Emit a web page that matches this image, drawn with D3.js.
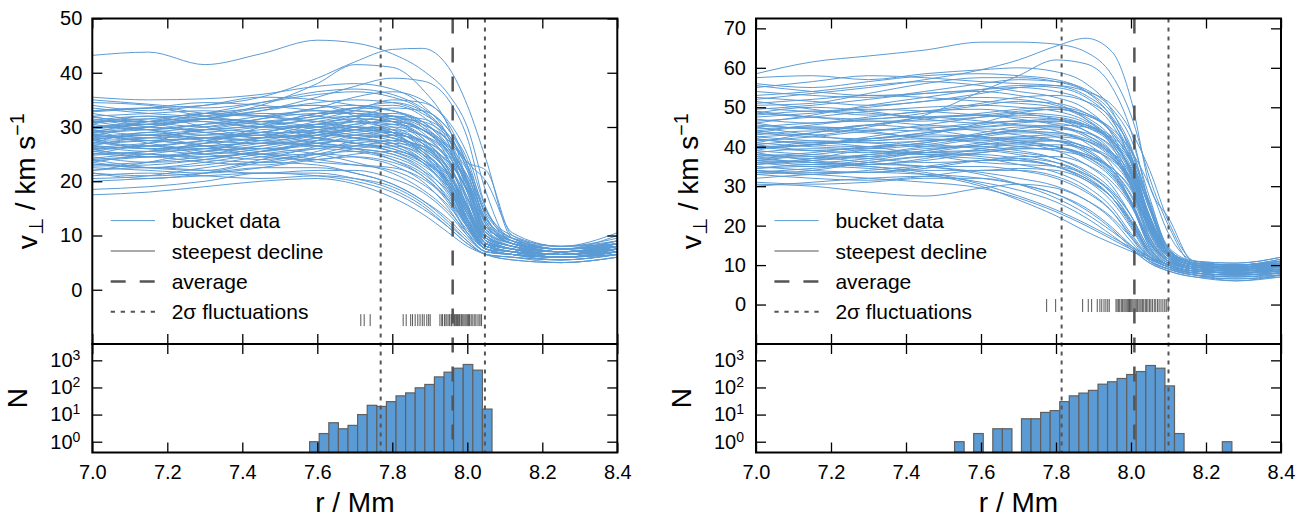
<!DOCTYPE html>
<html><head><meta charset="utf-8">
<script src="https://cdn.jsdelivr.net/npm/d3@7"></script>
<style>
body{margin:0;background:#fff}
svg{display:block}
text{font-family:"Liberation Sans",Arial,Helvetica,sans-serif;fill:#000}
</style>
</head><body>
<svg id="chart" width="1306" height="518"></svg>
<script>
// ---------------- DATA ----------------
const xTicks = [7.0, 7.2, 7.4, 7.6, 7.8, 8.0, 8.2, 8.4];
const yTicksL = [0, 10, 20, 30, 40, 50];
const yTicksR = [0, 10, 20, 30, 40, 50, 60, 70];
const histTicks = [1, 10, 100, 1000];
const legendLabels = ["bucket data", "steepest decline", "average", "2σ fluctuations"];

// radius grid (Mm) at which each bucket profile was read
const rGridL = [7.0, 7.15, 7.3, 7.45, 7.6, 7.7, 7.8, 7.88, 7.95, 8.0, 8.05, 8.12, 8.25, 8.4];
const curvesL = [
[43.2,43.8,41.5,43.5,46.0,45.5,43.5,40.5,36.0,30.0,18.0,8.5,7.5,8.5],
[33.0,33.5,34.0,35.5,39.0,42.0,44.3,44.5,41.0,34.0,24.0,9.5,7.5,8.5],
[30.0,31.0,32.0,34.0,38.0,41.5,41.0,37.0,30.0,20.0,10.0,8.0,7.0,8.0],
[35.5,35.0,35.2,36.0,37.5,38.0,37.0,34.0,28.0,18.0,9.0,7.5,6.5,8.0],
[35.0,34.2,33.5,34.5,36.0,36.5,35.5,33.0,27.0,16.0,8.5,7.0,6.0,7.5],
[34.0,33.0,34.0,35.5,35.0,34.0,33.0,31.0,26.0,19.0,10.0,8.0,7.0,8.5],
[33.5,32.5,32.0,33.0,34.5,35.0,34.5,32.5,28.5,22.0,11.0,8.0,6.5,7.0],
[33.0,33.5,32.0,31.0,32.0,33.5,33.0,30.0,24.0,15.0,8.0,7.0,6.0,7.0],
[32.5,31.0,30.0,31.5,33.5,34.0,33.0,30.5,25.0,17.0,9.0,7.5,7.0,8.0],
[32.0,32.5,33.0,32.0,31.0,31.5,31.0,28.0,22.0,14.0,8.5,7.5,6.5,8.5],
[31.5,30.0,29.5,30.5,32.5,33.5,34.0,32.0,27.0,20.0,11.5,9.0,7.5,9.0],
[31.0,31.5,31.0,30.0,30.5,32.0,32.5,31.0,26.5,20.5,12.0,8.5,7.0,7.5],
[30.5,29.5,30.5,32.0,33.0,32.5,31.0,28.0,22.0,13.0,7.5,6.5,6.0,7.0],
[30.0,30.5,29.0,28.5,30.0,31.0,30.5,27.5,21.0,12.5,8.0,7.0,6.5,8.0],
[29.5,28.5,29.0,30.0,31.5,32.0,31.5,29.5,25.5,19.0,10.5,8.5,7.0,8.0],
[29.0,29.5,30.5,31.0,30.0,29.0,28.0,25.0,19.0,11.5,7.5,6.5,6.0,6.5],
[28.5,27.5,27.0,28.0,29.5,30.5,31.0,29.5,26.0,21.0,13.0,9.5,7.5,8.5],
[28.0,28.5,28.0,27.5,28.5,29.5,29.0,26.5,21.5,14.5,8.5,7.0,6.5,7.5],
[27.5,26.5,27.5,29.0,30.5,31.0,30.0,27.0,21.0,13.0,8.0,7.0,6.0,7.0],
[27.0,27.5,26.5,26.0,27.0,28.0,28.5,27.5,24.5,19.5,11.0,8.5,7.0,8.0],
[26.5,25.5,26.0,27.5,29.0,29.5,28.5,25.5,20.0,12.5,8.0,7.0,6.0,7.5],
[26.0,26.5,27.5,28.5,28.0,27.0,26.0,23.5,18.5,12.0,7.5,6.5,6.0,6.5],
[25.5,25.0,24.5,25.5,27.5,28.5,28.0,26.0,21.5,15.0,9.0,7.5,6.5,8.0],
[25.0,25.5,26.5,27.0,26.5,26.0,25.0,22.0,16.5,10.5,7.0,6.5,6.0,7.0],
[24.5,23.5,24.0,25.5,27.0,27.5,26.5,23.5,18.0,11.5,7.5,7.0,6.5,7.5],
[24.0,24.5,23.5,23.0,24.5,26.0,26.5,25.0,21.0,15.5,9.5,8.0,7.0,8.0],
[23.5,22.5,23.0,24.5,25.0,24.5,23.0,20.0,15.0,10.0,7.0,6.5,6.0,7.0],
[23.0,23.5,24.5,25.0,24.0,23.0,22.0,19.5,15.5,11.0,7.5,6.5,5.5,6.5],
[22.5,22.0,21.5,22.5,24.0,24.5,23.5,21.0,16.5,11.5,8.0,7.0,6.5,7.5],
[22.0,22.5,22.0,21.5,22.0,22.0,20.5,18.0,14.0,10.0,7.0,6.5,6.0,7.0],
[21.5,21.0,21.5,22.5,22.5,21.5,19.5,16.5,12.5,9.0,6.5,6.0,5.5,6.5],
[21.0,21.5,21.0,20.5,21.0,20.5,19.0,16.0,12.0,9.0,6.5,6.0,5.0,6.0],
[20.0,20.5,21.0,21.5,21.0,20.0,18.0,15.0,11.5,8.5,6.5,5.5,5.0,6.0],
[18.5,19.0,20.0,21.5,21.5,20.5,18.5,15.5,11.5,8.5,6.5,6.0,5.5,6.5],
[17.5,18.0,19.0,20.0,20.5,19.5,17.0,14.0,10.5,8.0,6.5,5.5,5.0,6.0],
[31.8,31.0,31.5,32.5,32.0,31.0,29.5,26.0,19.5,12.0,7.5,6.5,6.0,7.0],
[30.8,31.5,32.5,33.5,34.0,33.0,32.0,30.0,26.0,19.5,10.0,7.5,6.5,7.5],
[29.8,30.5,31.5,31.0,29.5,28.5,27.5,25.0,20.0,14.0,8.5,7.0,6.5,7.5],
[28.8,28.0,28.5,29.5,30.0,29.5,28.0,25.5,21.0,15.0,8.5,7.5,7.0,8.5],
[27.8,28.5,29.5,30.0,29.0,28.0,27.0,24.5,19.0,12.0,7.5,7.0,6.5,7.5],
[26.8,27.5,28.0,28.5,29.5,30.0,29.5,27.0,22.5,16.5,9.5,8.0,7.0,8.0],
[25.8,26.5,25.5,25.0,26.0,27.0,27.5,26.5,23.5,18.5,10.5,8.5,7.5,10.0],
[24.8,25.5,27.0,28.0,28.5,28.0,27.0,24.0,19.0,13.0,8.0,7.0,6.0,7.0],
[23.8,24.5,25.5,26.5,27.5,27.0,25.5,23.0,19.0,14.0,8.5,7.5,6.5,7.5],
[22.8,23.0,24.0,25.5,26.5,26.5,25.5,23.5,20.0,15.0,9.0,7.5,7.0,8.0],
[27.2,26.0,25.0,26.0,28.0,29.5,30.0,28.5,25.0,20.0,12.5,9.0,7.5,8.5],
[28.2,29.0,30.0,31.5,32.5,32.5,31.5,29.0,23.5,15.5,8.5,7.5,6.5,7.5],
[29.2,30.0,29.0,28.0,28.5,29.5,30.5,29.5,26.5,22.0,14.0,9.5,7.5,8.0],
[30.2,29.5,28.5,29.0,31.0,32.0,32.0,30.5,27.5,22.5,13.5,9.0,7.0,7.5],
[26.2,27.0,28.0,27.5,26.5,26.0,25.0,22.5,17.5,11.5,7.5,6.5,6.0,7.0],
[25.2,24.5,25.0,26.5,28.0,29.0,29.5,28.5,25.5,21.0,13.0,9.0,7.0,8.0],
[24.2,25.0,24.0,23.5,25.0,26.5,27.0,26.0,22.5,17.0,9.5,7.5,6.5,7.5],
[23.2,22.5,23.5,25.0,26.0,25.5,24.0,21.5,17.0,12.0,8.0,7.0,6.0,7.0],
[27.6,28.5,27.5,27.0,28.5,30.0,31.5,31.0,28.0,23.0,14.5,10.0,8.0,10.5],
[28.6,27.5,28.0,29.0,29.0,28.0,26.5,24.0,19.5,13.5,8.0,7.0,6.5,8.0],
[29.6,30.5,31.0,30.0,30.0,31.0,32.0,31.5,28.5,23.5,20.0,10.5,8.0,8.5],
[32.8,33.5,34.5,34.0,33.0,32.5,32.0,30.5,27.5,23.5,22.0,10.0,7.5,8.0],
[26.6,26.0,26.5,27.0,27.0,26.0,24.0,21.0,16.0,10.5,7.5,6.5,6.0,7.0],
[31.2,32.0,31.5,30.5,31.5,33.0,35.0,34.5,31.0,25.0,15.0,9.5,7.5,9.0],
[20.5,21.0,22.5,23.5,23.0,21.5,19.5,16.5,13.0,9.5,7.0,6.5,6.0,7.0],
[29.0,30.0,31.5,33.0,35.5,37.5,39.0,38.5,35.0,28.0,15.0,9.0,7.0,8.0],
[31.0,31.0,32.5,34.5,36.5,37.0,36.0,33.5,29.5,24.0,13.5,8.5,7.0,7.5],
[27.0,29.0,27.5,25.5,27.5,30.0,29.0,25.0,19.5,13.0,8.0,7.0,6.0,7.0],
[25.0,27.0,29.5,29.0,27.0,26.5,27.5,26.5,22.0,15.5,9.0,7.5,6.5,7.5],
[29.5,27.0,26.0,27.0,29.0,31.5,33.5,33.0,29.5,23.0,12.5,8.5,7.0,8.0],
[32.0,30.5,31.5,33.5,34.0,32.0,29.0,25.5,20.5,14.0,8.5,7.5,6.5,7.0],
[24.0,22.5,22.0,24.0,26.5,28.5,29.0,27.5,23.0,17.0,10.0,8.0,7.0,8.5],
[26.5,28.0,26.5,24.5,24.0,25.0,25.5,24.0,20.0,14.5,9.0,7.5,6.5,7.5],
[28.0,26.0,27.0,30.0,32.5,33.0,32.0,29.5,25.0,18.0,9.5,7.5,6.5,7.0],
[30.5,32.0,30.0,28.0,29.0,30.5,31.0,29.5,25.5,20.0,12.0,8.5,7.5,9.0],
[22.0,23.5,25.5,26.0,25.0,23.5,21.5,18.5,14.5,10.5,7.5,6.5,5.5,6.5],
[26.0,24.5,25.5,28.0,30.5,31.5,31.0,28.5,24.0,18.0,10.0,8.0,7.0,8.0],
[28.5,30.0,31.5,30.5,28.0,27.0,26.0,23.5,18.5,12.5,8.0,7.0,6.0,6.5],
[31.0,29.5,28.0,29.0,30.5,30.0,28.5,26.0,21.5,15.5,9.0,7.5,6.5,7.5],
[23.5,25.0,26.0,25.0,23.5,23.0,22.5,20.5,16.5,12.0,8.0,7.0,6.0,7.0],
[27.5,28.0,29.5,31.0,32.0,33.5,34.5,33.0,28.0,20.0,10.5,8.0,7.0,8.0],
[29.0,31.0,32.5,32.0,31.0,30.0,29.0,27.0,23.5,18.5,11.5,9.0,8.0,9.5],
[25.5,26.5,25.0,24.0,25.5,27.5,28.5,27.5,24.0,18.5,11.0,9.5,8.0,9.0],
[34.5,34.0,32.5,32.0,33.5,35.5,36.5,35.0,30.5,23.0,12.0,8.5,7.0,7.5],
[21.5,20.5,21.5,23.5,25.0,25.5,24.5,22.0,18.0,13.0,8.5,7.0,6.5,7.5]
];

const rGridR = [7.0, 7.15, 7.3, 7.45, 7.6, 7.7, 7.8, 7.88, 7.95, 8.0, 8.05, 8.1, 8.17, 8.28, 8.4];
const curvesR = [
[58.5,61.5,63.0,64.5,66.5,66.5,66.0,64.0,58.0,48.0,32.0,20.0,10.0,9.5,10.5],
[52.0,53.5,55.0,57.0,59.5,62.0,65.5,67.5,64.0,52.0,30.0,22.0,10.5,10.0,11.0],
[44.0,43.0,45.0,48.0,54.0,58.0,62.0,61.0,55.0,44.0,25.0,13.0,10.0,9.0,10.0],
[57.5,58.0,57.0,58.5,59.5,60.0,59.0,56.0,49.0,38.0,22.0,12.5,10.0,9.5,11.0],
[56.0,55.0,56.5,58.0,58.5,58.0,57.0,54.0,47.0,36.0,20.0,12.0,9.5,9.0,10.0],
[55.0,56.5,58.0,57.5,56.5,56.0,55.5,53.0,47.5,39.0,24.0,13.5,11.0,10.5,12.0],
[54.0,53.0,52.5,54.0,56.0,57.0,56.5,54.5,49.5,42.0,27.0,14.0,10.5,10.0,11.5],
[53.0,54.0,55.5,56.5,55.5,54.0,52.5,49.5,43.0,33.0,18.0,11.5,9.5,9.0,10.0],
[52.5,51.5,50.5,51.5,53.5,55.0,55.5,54.0,50.5,44.0,34.0,21.0,11.0,10.0,10.5],
[51.0,52.0,53.0,52.5,51.5,51.0,50.0,47.0,41.0,31.0,17.0,11.5,9.5,8.5,9.5],
[50.0,49.0,50.0,51.5,52.5,52.0,50.5,47.5,42.0,33.5,19.5,12.0,10.0,9.0,10.0],
[49.5,50.5,52.0,53.5,54.0,53.0,51.0,47.0,40.0,30.0,16.0,11.0,9.5,9.0,10.0],
[48.5,47.5,47.0,48.5,50.5,51.5,51.0,48.5,43.5,36.0,22.0,13.0,10.5,9.5,11.0],
[48.0,49.0,48.5,47.5,48.0,49.0,49.5,48.0,44.5,39.0,30.0,18.0,11.0,10.0,11.0],
[47.0,46.0,47.5,49.0,49.5,48.5,47.0,44.0,38.5,30.0,17.0,11.0,9.0,8.5,9.5],
[46.5,47.5,49.0,50.0,50.5,50.0,49.0,46.5,41.5,34.0,20.0,12.0,9.5,9.0,9.5],
[45.5,44.5,44.0,45.5,47.5,48.5,48.0,46.0,41.0,34.5,22.5,13.0,10.0,9.5,10.5],
[45.0,46.0,46.5,45.5,45.0,45.5,45.0,42.5,37.5,30.0,18.5,11.5,9.0,8.0,9.0],
[44.0,45.5,47.0,47.5,46.5,45.5,44.0,41.0,35.0,26.0,14.5,10.5,9.0,8.5,9.0],
[43.5,42.5,42.0,43.5,45.5,46.5,46.5,45.0,41.5,36.0,24.5,14.0,10.5,9.5,10.0],
[43.0,44.0,43.5,42.5,43.0,44.0,44.5,43.5,40.0,34.0,21.0,12.5,10.0,9.0,9.5],
[42.0,41.0,42.0,43.5,44.5,44.0,42.5,39.5,34.0,26.0,15.0,10.5,8.5,8.0,8.5],
[41.5,42.5,44.0,45.0,44.0,43.0,41.5,38.5,33.0,25.5,14.5,10.0,8.5,8.0,9.0],
[41.0,40.0,39.5,40.5,42.5,43.5,43.5,42.0,38.5,33.0,22.0,13.0,10.0,9.0,10.5],
[40.5,41.5,41.0,40.0,40.0,41.0,41.5,40.0,36.0,30.0,19.0,12.0,9.5,9.0,9.5],
[40.0,39.0,40.0,41.5,42.0,41.0,39.0,35.5,30.0,22.5,13.0,10.0,8.5,8.0,8.5],
[39.5,40.5,42.0,43.0,42.5,41.5,40.0,37.0,32.0,25.5,16.0,11.0,9.0,8.5,9.0],
[39.0,38.0,37.5,38.5,40.5,41.5,41.5,40.0,37.0,32.0,22.0,13.5,10.5,10.0,11.0],
[38.5,39.5,39.0,38.0,38.5,39.5,39.5,37.5,33.0,26.5,16.0,11.0,9.0,8.5,9.0],
[38.0,37.0,38.0,39.5,40.0,39.0,37.0,33.5,28.0,21.0,12.5,9.5,8.0,7.5,8.0],
[37.5,38.5,40.0,40.5,39.5,38.5,37.0,34.0,29.0,22.5,14.0,10.0,8.5,8.0,8.5],
[37.0,36.0,35.5,36.5,38.5,39.5,39.5,38.0,34.5,29.0,19.0,12.0,9.5,9.0,10.0],
[36.5,37.5,37.0,36.0,36.5,37.5,37.5,35.5,31.0,25.0,15.5,11.0,9.0,8.0,8.5],
[36.0,35.0,36.0,37.5,38.0,37.0,35.0,31.5,26.0,19.5,12.0,9.5,8.0,7.5,8.0],
[35.5,36.5,38.0,38.5,37.5,36.5,35.0,32.0,27.0,20.5,13.0,10.0,8.5,8.0,9.0],
[35.0,34.0,33.5,34.5,36.5,37.0,36.0,33.0,28.0,21.5,13.5,10.0,8.5,8.0,8.5],
[34.5,35.5,35.0,34.0,34.0,34.5,34.0,31.5,27.0,21.0,13.0,10.0,8.5,8.0,8.5],
[34.0,33.0,34.0,35.0,35.0,34.0,32.0,28.5,23.5,17.5,11.5,9.0,7.5,7.0,7.5],
[33.5,34.5,35.5,35.0,33.5,32.0,30.0,26.5,21.5,16.0,11.0,9.0,7.5,6.5,7.5],
[33.0,32.0,31.5,32.5,34.0,34.0,32.5,29.0,23.5,17.0,11.0,9.0,7.5,7.0,8.0],
[32.0,33.0,33.5,33.0,32.0,30.5,28.0,24.5,19.5,15.0,11.0,9.0,7.5,6.0,7.5],
[31.0,30.5,31.0,32.0,32.0,30.5,28.0,24.0,19.0,14.5,10.5,8.5,7.0,6.0,7.0],
[30.5,30.0,28.5,27.5,29.5,30.5,29.5,26.5,22.0,17.0,12.0,9.5,8.0,7.0,7.5],
[30.0,31.0,32.0,32.5,31.0,29.0,26.0,22.0,17.5,14.0,10.5,8.5,7.0,6.5,7.0],
[33.5,33.0,32.0,31.0,29.5,27.0,23.5,20.0,16.5,14.0,11.5,9.5,8.0,7.5,8.0],
[36.5,36.0,35.0,33.5,30.5,27.5,24.0,20.5,17.0,14.5,12.0,10.0,8.5,8.0,8.5],
[34.5,35.0,34.5,33.0,30.0,26.5,22.5,18.5,15.5,13.5,11.5,9.5,8.0,7.5,8.0],
[38.0,37.5,36.0,35.0,33.0,30.5,27.0,23.0,18.5,15.0,12.0,10.0,8.5,8.0,8.0],
[50.5,51.0,53.5,56.0,57.5,57.5,56.5,54.0,48.5,40.0,25.0,13.5,10.5,9.5,10.5],
[46.0,48.0,50.5,52.5,54.5,55.5,55.0,52.5,46.5,37.5,21.5,12.5,10.0,9.5,10.0],
[42.5,43.5,45.5,47.0,48.5,49.5,50.0,48.5,44.0,37.0,24.0,13.5,10.5,10.0,11.0],
[39.5,40.5,42.5,44.5,46.0,46.5,46.0,44.0,39.5,32.5,20.5,12.5,10.0,9.5,10.0],
[44.5,45.0,44.5,44.0,45.0,46.0,46.5,45.5,42.5,37.5,26.0,14.5,11.0,10.5,12.0],
[37.0,38.0,39.5,41.0,43.0,44.0,43.5,41.5,37.0,30.5,19.5,12.0,9.5,9.0,9.5],
[40.0,40.5,41.5,42.0,41.0,40.0,39.0,37.5,34.5,29.5,20.0,12.5,10.0,9.5,10.5],
[47.5,48.5,49.5,49.0,48.0,47.5,47.0,45.0,40.5,33.0,19.5,12.0,9.5,8.5,9.5],
[42.5,41.5,41.0,41.5,43.0,44.5,45.5,45.0,42.0,36.5,25.0,14.0,10.5,10.0,11.5],
[36.0,36.5,37.5,39.0,40.5,41.0,40.0,37.5,32.5,26.0,16.5,11.0,9.0,8.5,9.0],
[55.5,54.0,53.0,53.5,54.5,55.0,54.0,51.5,45.5,36.5,21.0,12.5,10.0,9.5,10.5],
[49.0,47.5,46.5,46.5,47.5,48.0,47.5,45.5,41.0,34.0,21.0,12.5,10.0,9.0,9.5],
[41.0,43.5,45.5,44.5,42.5,42.0,42.5,41.5,38.0,32.0,20.5,12.5,10.0,9.5,10.5],
[45.0,43.0,41.5,43.0,46.0,48.5,49.5,48.0,43.5,36.0,22.5,13.0,10.5,10.0,10.5],
[38.5,36.5,35.5,37.0,39.5,40.5,40.0,38.0,34.0,28.0,18.0,11.5,9.5,9.0,9.5],
[35.5,37.0,39.0,38.0,36.0,35.5,35.0,33.0,28.5,22.5,14.0,10.0,8.5,8.0,8.5],
[43.5,45.0,44.0,42.0,41.5,42.5,43.0,41.5,37.5,31.0,19.0,12.0,9.5,9.0,10.0],
[51.5,49.5,48.0,49.0,51.0,52.5,53.0,51.5,47.0,39.5,25.5,14.0,10.5,10.0,11.0],
[36.5,35.5,36.5,38.5,39.0,38.0,36.0,32.5,27.0,20.0,12.5,9.5,8.0,7.5,8.0],
[40.5,39.0,38.5,40.0,42.0,42.5,41.5,39.0,34.0,27.5,17.0,11.0,9.0,8.5,9.0],
[46.0,44.5,45.5,47.5,48.0,47.0,45.5,43.0,38.0,31.0,19.0,12.0,9.5,9.0,10.0],
[33.0,34.0,36.0,37.5,37.0,35.5,33.5,30.0,24.5,18.0,12.0,9.5,8.0,7.5,8.0],
[39.0,41.0,40.0,38.5,39.0,40.0,40.5,39.5,36.5,31.5,21.0,13.0,10.0,9.5,10.0],
[37.5,36.0,37.0,39.0,41.0,42.0,41.5,39.0,33.5,26.0,15.5,10.5,9.0,8.5,9.0],
[48.5,50.0,49.0,47.0,46.0,46.5,47.0,45.5,41.5,35.0,22.0,13.0,10.0,9.5,10.5],
[42.0,40.5,40.0,41.0,43.5,45.0,45.0,43.0,38.5,31.5,19.0,12.0,9.5,9.0,9.5],
[34.0,33.5,33.5,35.0,36.5,36.5,35.0,32.0,27.0,21.0,13.5,10.0,8.5,8.0,8.5]
];

// steepest-decline positions (rug) in Mm
const rugL = [7.716,7.725,7.741,7.829,7.837,7.849,7.854,7.861,7.868,7.874,7.880,7.885,7.892,7.897,7.901,
 7.927,7.932,7.934,7.939,7.943,7.946,7.951,7.953,7.957,7.958,7.962,7.966,7.968,7.971,7.974,7.977,7.979,
 7.983,7.985,7.988,7.991,7.994,7.997,8.000,8.003,8.006,8.010,8.013,8.018,8.021,8.026,8.031,8.034,8.038];
const rugR = [7.775,7.799,7.871,7.886,7.895,7.910,7.917,7.922,7.928,7.933,7.938,7.942,
 7.960,7.963,7.967,7.970,7.974,7.977,7.981,7.984,7.987,7.990,7.993,7.996,7.999,8.002,8.005,8.008,
 8.011,8.014,8.017,8.021,8.024,8.027,8.031,8.034,8.038,8.041,8.045,8.049,8.053,8.057,8.062,8.066,
 8.071,8.075,8.080,8.085,8.090,8.094,8.099];
const rugYL = [-6.7, -4.5];
const rugYR = [-1.9, 1.4];

// average and 2-sigma positions (Mm)
const statsL = {avg: 7.961, lo: 7.769, hi: 8.047};
const statsR = {avg: 8.009, lo: 7.815, hi: 8.100};

// histograms of steepest-decline positions
const histStartL = 7.5795, histWidthL = 0.0256;
const histCountsL = [1,2,5,3,4,10,22,20,30,49,63,97,129,245,366,513,703,435,16];
const histStartR = 7.5295, histWidthR = 0.0255;
const histCountsR = [1,0,2,0,3,3,0,7,7,12,14,30,49,62,78,132,162,214,300,386,645,513,114,2,0,0,0,0,1];

// ---------------- DRAW ----------------
const BLUE = "#5b9bd5", GRAY = "#555555";
const svg = d3.select("#chart");
const TOP = 18.5, MID = 344, BOT = 452.5;

const panels = [
  {left: 92.3, right: 617.3, yDomain: [-10, 50], yTicks: yTicksL, grid: rGridL, curves: curvesL,
   rug: rugL, rugY: rugYL, stats: statsL, hs: histStartL, hw: histWidthL, hc: histCountsL},
  {left: 756, right: 1281, yDomain: [-10, 72.5], yTicks: yTicksR, grid: rGridR, curves: curvesR,
   rug: rugR, rugY: rugYR, stats: statsR, hs: histStartR, hw: histWidthR, hc: histCountsR}
];

const defs = svg.append("defs");

panels.forEach((p, pi) => {
  const g = svg.append("g");
  const x = d3.scaleLinear().domain([7.0, 8.4]).range([p.left, p.right]);
  const y = d3.scaleLinear().domain(p.yDomain).range([MID, TOP]);
  const yh = d3.scaleLog().domain([0.4, 4000]).range([BOT, MID]);

  defs.append("clipPath").attr("id", "clipTop" + pi)
    .append("rect").attr("x", p.left).attr("y", TOP).attr("width", p.right - p.left).attr("height", MID - TOP);

  // curves
  const line = d3.line().x((d, i) => x(p.grid[i])).y(d => y(d)).curve(d3.curveMonotoneX);
  g.append("g").attr("clip-path", `url(#clipTop${pi})`)
    .selectAll("path").data(p.curves).join("path")
    .attr("d", line).attr("fill", "none").attr("stroke", BLUE).attr("stroke-width", 1);

  // rug
  g.append("g").selectAll("line").data(p.rug).join("line")
    .attr("x1", d => x(d)).attr("x2", d => x(d))
    .attr("y1", y(p.rugY[0])).attr("y2", y(p.rugY[1]))
    .attr("stroke", GRAY).attr("stroke-width", 1);

  // histogram bars
  const bins = p.hc.map((c, i) => ({x0: p.hs + i * p.hw, x1: p.hs + (i + 1) * p.hw, c}))
                   .filter(b => b.c > 0);
  g.append("g").selectAll("rect").data(bins).join("rect")
    .attr("x", b => x(b.x0)).attr("width", b => x(b.x1) - x(b.x0))
    .attr("y", b => yh(b.c)).attr("height", b => yh(0.4) - yh(b.c))
    .attr("fill", BLUE).attr("stroke", "#606060").attr("stroke-width", 1.2);

  // vertical stat lines
  const vl = [{v: p.stats.lo, dash: "4,5", w: 2}, {v: p.stats.avg, dash: "15,14", w: 2.5}, {v: p.stats.hi, dash: "4,5", w: 2}];
  g.append("g").selectAll("line").data(vl).join("line")
    .attr("x1", d => x(d.v)).attr("x2", d => x(d.v)).attr("y1", TOP).attr("y2", BOT)
    .attr("stroke", GRAY).attr("stroke-width", d => d.w).attr("stroke-dasharray", d => d.dash);

  // axes
  const tickStyle = sel => {
    sel.select(".domain").remove();
    sel.selectAll(".tick line").attr("stroke", "#000").attr("stroke-width", 1.3);
    sel.selectAll(".tick text").attr("font-size", 20).attr("font-family", '"Liberation Sans",Arial,sans-serif');
  };
  g.append("g").attr("transform", `translate(0,${MID})`)
    .call(d3.axisBottom(x).tickValues(xTicks).tickSize(-10).tickFormat("")).call(tickStyle);
  g.append("g").attr("transform", `translate(0,${TOP})`)
    .call(d3.axisTop(x).tickValues(xTicks).tickSize(-10).tickFormat("")).call(tickStyle);
  g.append("g").attr("transform", `translate(${p.left},0)`)
    .call(d3.axisLeft(y).tickValues(p.yTicks).tickSize(-10).tickPadding(10).tickFormat(d3.format("d"))).call(tickStyle);
  g.append("g").attr("transform", `translate(${p.right},0)`)
    .call(d3.axisRight(y).tickValues(p.yTicks).tickSize(-10).tickFormat("")).call(tickStyle);
  g.append("g").attr("transform", `translate(0,${BOT})`)
    .call(d3.axisBottom(x).tickValues(xTicks).tickSize(-10).tickPadding(12).tickFormat(d3.format(".1f"))).call(tickStyle);
  g.append("g").attr("transform", `translate(0,${MID})`)
    .call(d3.axisTop(x).tickValues(xTicks).tickSize(-10).tickFormat("")).call(tickStyle);
  const hy = g.append("g").attr("transform", `translate(${p.left},0)`)
    .call(d3.axisLeft(yh).tickValues(histTicks).tickSize(-10).tickPadding(12).tickFormat(() => "")).call(tickStyle);
  hy.selectAll(".tick text").each(function(d) {
    const t = d3.select(this);
    t.append("tspan").text("10");
    t.append("tspan").attr("dy", "-0.5em").attr("font-size", "0.7em").text(String(Math.round(Math.log10(d))));
  });
  g.append("g").attr("transform", `translate(${p.right},0)`)
    .call(d3.axisRight(yh).tickValues(histTicks).tickSize(-10).tickFormat("")).call(tickStyle);

  // spines
  g.append("rect").attr("x", p.left).attr("y", TOP).attr("width", p.right - p.left).attr("height", MID - TOP)
    .attr("fill", "none").attr("stroke", "#000").attr("stroke-width", 2);
  g.append("rect").attr("x", p.left).attr("y", MID).attr("width", p.right - p.left).attr("height", BOT - MID)
    .attr("fill", "none").attr("stroke", "#000").attr("stroke-width", 2);

  // axis labels
  const yl = g.append("text").attr("font-size", 28).attr("text-anchor", "middle")
    .attr("transform", `translate(${p.left - 55},${(TOP + MID) / 2}) rotate(-90)`);
  yl.append("tspan").text("v");
  yl.append("tspan").attr("font-size", "0.7em").attr("dy", "0.3em").text("⊥");
  yl.append("tspan").attr("dy", "-0.3em").text(" / km s");
  yl.append("tspan").attr("font-size", "0.7em").attr("dy", "-0.55em").text("−1");
  g.append("text").attr("font-size", 28).attr("text-anchor", "middle")
    .attr("transform", `translate(${p.left - 65},${(MID + BOT) / 2}) rotate(-90)`).text("N");
  g.append("text").attr("font-size", 28).attr("text-anchor", "middle")
    .attr("x", (p.left + p.right) / 2).attr("y", 512).text("r / Mm");

  // legend
  const styles = [
    {stroke: BLUE, w: 1, dash: null},
    {stroke: GRAY, w: 1, dash: null},
    {stroke: GRAY, w: 2.5, dash: "15,14"},
    {stroke: GRAY, w: 2, dash: "4.3,5.7"}
  ];
  const lg = g.append("g");
  legendLabels.forEach((lab, i) => {
    const yy = 220.6 + i * 30.4;
    lg.append("line").attr("x1", p.left + 18.4).attr("x2", p.left + 62.7).attr("y1", yy).attr("y2", yy)
      .attr("stroke", styles[i].stroke).attr("stroke-width", styles[i].w)
      .attr("stroke-dasharray", styles[i].dash);
    lg.append("text").attr("x", p.left + 79.4).attr("y", yy + 7.5).attr("font-size", 21).text(lab);
  });
});
</script>
</body></html>
